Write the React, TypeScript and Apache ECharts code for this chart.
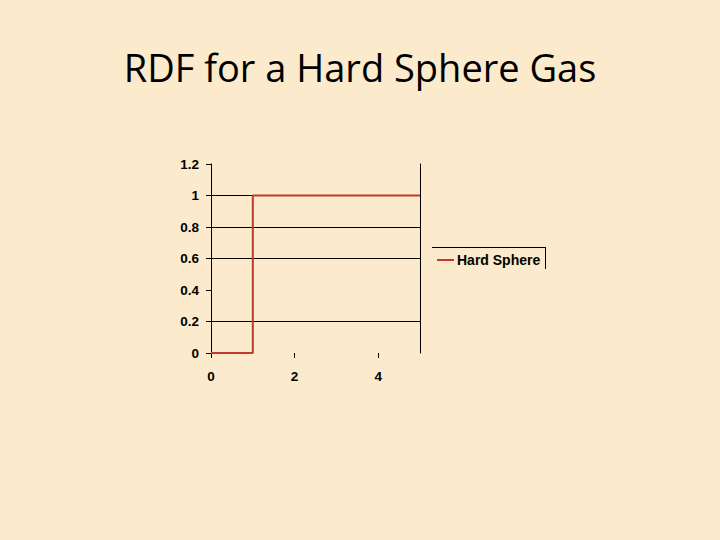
import React, { useEffect, useRef } from "react";
import * as echarts from "echarts";

const titleText = "RDF for a Hard Sphere Gas";
const seriesName = "Hard Sphere";
const rValues = [0, 1, 1, 5];
const gValues = [0, 0, 1, 1];
const xTicks = [0, 2, 4];
const gridLineValues = [0.2, 0.6, 0.8, 1];

export default function App() {
  const ref = useRef<HTMLDivElement>(null);
  useEffect(() => {
    document.body.style.margin = "0";
    const chart = echarts.init(ref.current!, null, { renderer: "svg" });
    const labelFont = {
      color: "#000",
      fontFamily: "Liberation Sans, Arial, sans-serif",
      fontWeight: "bold" as const,
      fontSize: 13.5,
    };
    chart.setOption({
      animation: false,
      backgroundColor: "#fbeacb",
      title: {
        text: titleText,
        left: "center",
        top: 43,
        textStyle: {
          fontFamily: "Open Sans, sans-serif",
          fontWeight: "normal",
          fontSize: 38,
          color: "#000",
        },
      },
      grid: { left: 211, right: 300, top: 164, bottom: 187 },
      xAxis: {
        type: "value",
        min: 0,
        max: 5,
        interval: 2,
        axisLine: { show: false },
        axisTick: { show: true, length: 5, customValues: xTicks, lineStyle: { color: "#000" } },
        axisLabel: { ...labelFont, margin: 16, customValues: xTicks },
        splitLine: { show: false },
      },
      yAxis: [
        {
          type: "value",
          min: 0,
          max: 1.2,
          interval: 0.2,
          axisLine: { show: true, lineStyle: { color: "#000", width: 1 } },
          axisTick: { show: true, length: 5, lineStyle: { color: "#000" } },
          axisLabel: { ...labelFont, margin: 12 },
          splitLine: { show: false },
        },
        {
          type: "value",
          position: "right",
          min: 0,
          max: 1.2,
          interval: 0.2,
          axisLine: { show: true, lineStyle: { color: "#000", width: 1 } },
          axisTick: { show: false },
          axisLabel: { show: false },
          splitLine: { show: false },
        },
      ],
      series: [
        {
          type: "line",
          data: [],
          z: 1,
          silent: true,
          markLine: {
            silent: true,
            symbol: "none",
            label: { show: false },
            lineStyle: { color: "#000", width: 1, type: "solid" },
            data: gridLineValues.map((v) => ({ yAxis: v })),
          },
        },
        {
          name: seriesName,
          type: "line",
          z: 5,
          showSymbol: false,
          data: rValues.map((r, i) => [r, gValues[i]]),
          lineStyle: { color: "#bf3a30", width: 2 },
          itemStyle: { color: "#bf3a30" },
        },
      ],
      graphic: [
        { type: "line", shape: { x1: 432, y1: 247.5, x2: 545.5, y2: 247.5 }, style: { stroke: "#000", lineWidth: 1 } },
        { type: "line", shape: { x1: 545.5, y1: 247, x2: 545.5, y2: 269 }, style: { stroke: "#000", lineWidth: 1 } },
        { type: "line", shape: { x1: 437, y1: 260, x2: 454, y2: 260 }, style: { stroke: "#bf3a30", lineWidth: 2 } },
        {
          type: "text",
          x: 457,
          y: 260,
          style: {
            text: seriesName,
            fill: "#000",
            font: "bold 14px 'Liberation Sans', Arial, sans-serif",
            textVerticalAlign: "middle",
            verticalAlign: "middle",
          },
        },
      ],
    });
    return () => chart.dispose();
  }, []);
  return <div ref={ref} style={{ width: 720, height: 540 }} />;
}
